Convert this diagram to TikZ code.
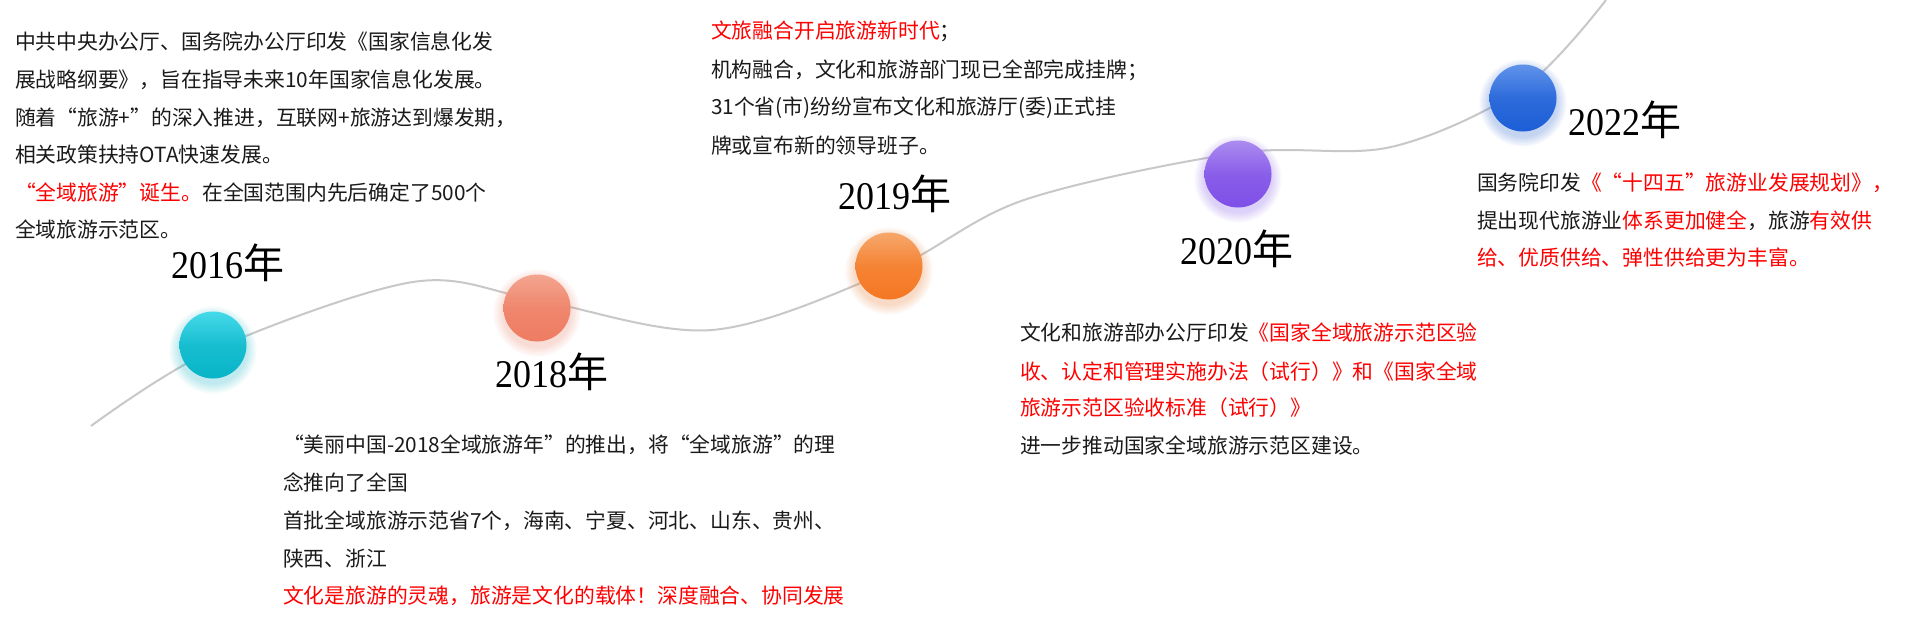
\documentclass[tikz,border=0pt]{standalone}
\usepackage{fontspec}
\usepackage{graphicx}
\newfontfamily\cjk{Noto Sans CJK SC}
\newfontfamily\yrserif{Liberation Serif}
\usetikzlibrary{calc}
\definecolor{txt}{HTML}{1A1A1A}
\definecolor{hl}{HTML}{FF0000}
\definecolor{curvegray}{HTML}{C8C8C8}
\definecolor{ca16}{HTML}{45DAEA}\definecolor{cb16}{HTML}{08B4C7}
\definecolor{ca18}{HTML}{F3A590}\definecolor{cb18}{HTML}{EE7C62}
\definecolor{ca19}{HTML}{F6A86C}\definecolor{cb19}{HTML}{F57722}
\definecolor{ca20}{HTML}{AC8CF0}\definecolor{cb20}{HTML}{7E4FE7}
\definecolor{ca22}{HTML}{6193EA}\definecolor{cb22}{HTML}{1C5ED6}
\newcommand{\hlt}[1]{\textcolor{hl}{#1}}
\newcommand{\yearlbl}[1]{\scalebox{1}[1.09]{\yrserif\fontsize{36}{40}\selectfont #1}{\cjk\fontsize{41}{44}\selectfont 年}}
\tikzset{
  ln/.style={anchor=base west, inner sep=0pt, outer sep=0pt, text=txt, font=\cjk\fontsize{20.8}{24}\selectfont},
  yr/.style={anchor=base, inner sep=0pt, text=black},
  dot/.style={circle, inner sep=0pt, minimum size=67pt, shading angle=45},
  trail/.style={draw=curvegray, line width=2pt},
}
\begin{document}
\begin{tikzpicture}[x=1pt,y=-1pt]
\useasboundingbox (0,0) rectangle (1909,621);
\fill[white] (0,0) rectangle (1909,621);
% circle centres
\coordinate (p16) at (213,345);
\coordinate (p18) at (537,308);
\coordinate (p19) at (889,266);
\coordinate (p20) at (1238,174);
\coordinate (p22) at (1523,98);
% trail curve
\draw[trail] plot[smooth, tension=0.55] coordinates {(91,426) (213,350) (413,282) (537,300) (712,330) (889,271) (1024,200) (1238,153) (1391,147) (1523,88) (1606,0)};
% glows
\foreach \p/\c in {p16/cb16, p18/cb18, p19/cb19, p20/cb20, p22/cb22}{
  \foreach \k in {1,...,7}{
    \fill[\c, opacity=0.04] ($(\p)+(0,5)$) circle[radius={(33+1.5*\k)*1pt}];
  }
}
% circles
\node[dot, top color=ca16, bottom color=cb16, middle color=cb16!75!ca16] (c16) at (p16) {};
\node[dot, top color=ca18, bottom color=cb18, middle color=cb18!75!ca18] (c18) at (p18) {};
\node[dot, top color=ca19, bottom color=cb19, middle color=cb19!75!ca19] (c19) at (p19) {};
\node[dot, top color=ca20, bottom color=cb20, middle color=cb20!75!ca20] (c20) at (p20) {};
\node[dot, top color=ca22, bottom color=cb22, middle color=cb22!75!ca22] (c22) at (p22) {};
% years
\node[yr] (y16) at (228,278) {\yearlbl{2016}};
\node[yr] (y18) at (552,387) {\yearlbl{2018}};
\node[yr] (y19) at (895,209) {\yearlbl{2019}};
\node[yr] (y20) at (1237,264) {\yearlbl{2020}};
\node[yr] (y22) at (1625,135) {\yearlbl{2022}};
% 2016 block
\node[ln] (a1) at (15,49) {中共中央办公厅、国务院办公厅印发《国家信息化发};
\node[ln] (a2) at (15,87) {展战略纲要》，旨在指导未来10年国家信息化发展。};
\node[ln] (a3) at (15,125) {随着“旅游+”的深入推进，互联网+旅游达到爆发期，};
\node[ln] (a4) at (15,162) {相关政策扶持OTA快速发展。};
\node[ln] (a5) at (15,200) {\hlt{“全域旅游”诞生。}在全国范围内先后确定了500个};
\node[ln] (a6) at (15,237) {全域旅游示范区。};
% 2019 block
\node[ln] (b1) at (711,38.5) {\hlt{文旅融合开启旅游新时代}；};
\node[ln] (b2) at (711,77) {机构融合，文化和旅游部门现已全部完成挂牌；};
\node[ln] (b3) at (711,114.5) {31个省(市)纷纷宣布文化和旅游厅(委)正式挂};
\node[ln] (b4) at (711,153) {牌或宣布新的领导班子。};
% 2018 block
\node[ln] (d1) at (283,452) {“美丽中国-2018全域旅游年”的推出，将“全域旅游”的理};
\node[ln] (d2) at (283,490) {念推向了全国};
\node[ln] (d3) at (283,528.5) {首批全域旅游示范省7个，海南、宁夏、河北、山东、贵州、};
\node[ln] (d4) at (283,566) {陕西、浙江};
\node[ln] (d5) at (283,603.5) {\hlt{文化是旅游的灵魂，旅游是文化的载体！深度融合、协同发展}};
% 2020 block
\node[ln] (e1) at (1020,340.5) {文化和旅游部办公厅印发\hlt{《国家全域旅游示范区验}};
\node[ln] (e2) at (1020,379) {\hlt{收、认定和管理实施办法（试行）》和《国家全域}};
\node[ln] (e3) at (1020,415.5) {\hlt{旅游示范区验收标准（试行）》}};
\node[ln] (e4) at (1020,453) {进一步推动国家全域旅游示范区建设。};
% 2022 block
\node[ln] (f1) at (1477,190) {国务院印发\hlt{《“十四五”旅游业发展规划》，}};
\node[ln] (f2) at (1477,228) {提出现代旅游业\hlt{体系更加健全}，旅游\hlt{有效供}};
\node[ln] (f3) at (1477,265) {\hlt{给、优质供给、弹性供给更为丰富。}};
\end{tikzpicture}
\end{document}
